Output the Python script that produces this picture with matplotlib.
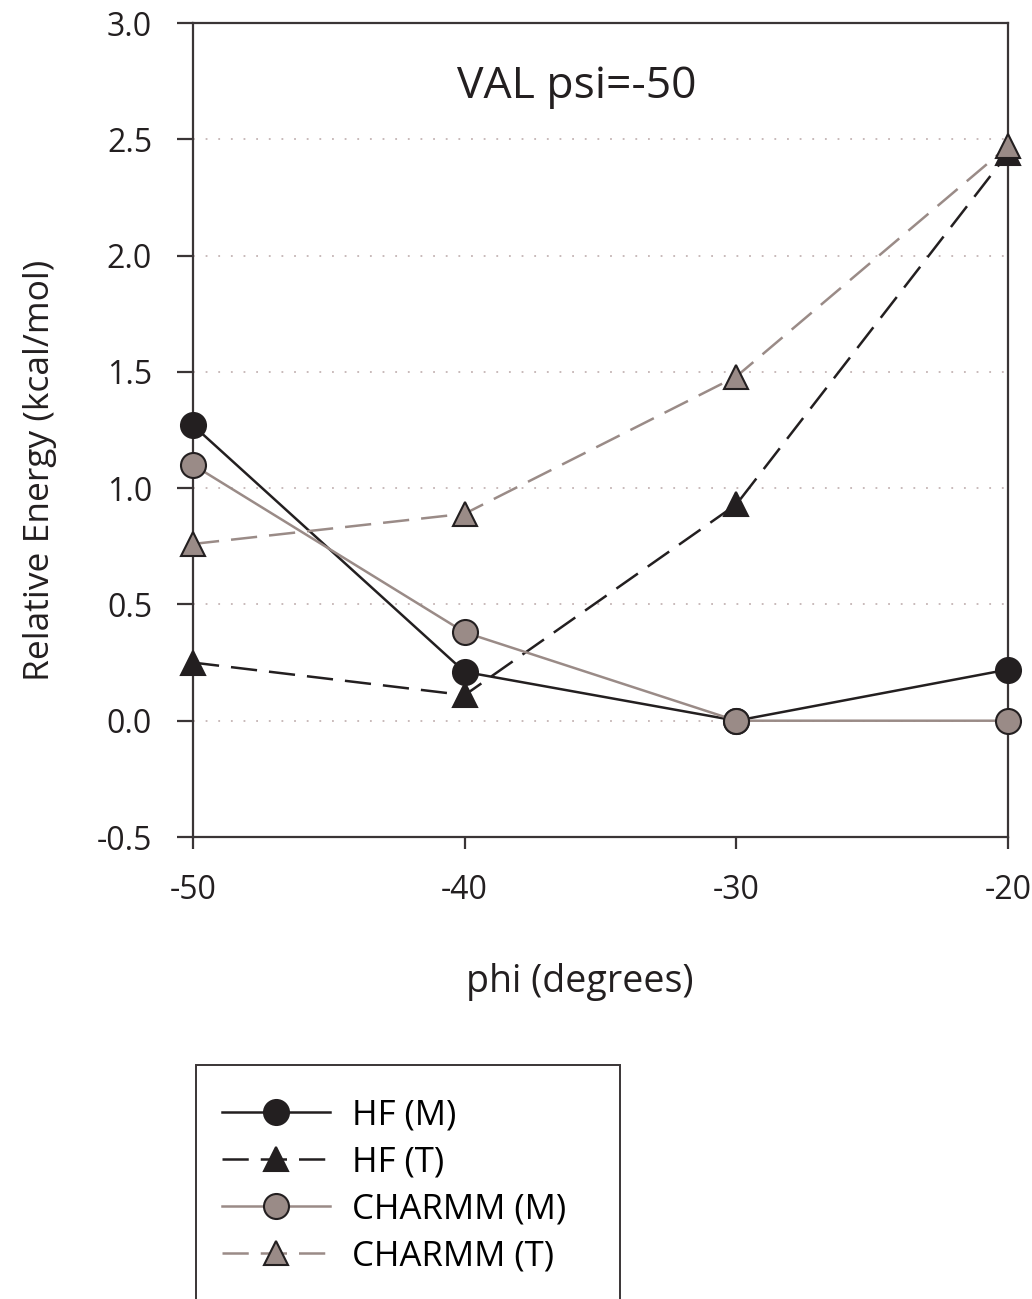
import matplotlib
matplotlib.use("Agg")
import matplotlib.pyplot as plt
from matplotlib.patches import Rectangle

plt.rcParams['font.family'] = ['Open Sans', 'DejaVu Sans']

# data
phi = [-50, -40, -30, -20]
hf_m = [1.27, 0.21, 0.00, 0.22]
hf_t = [0.25, 0.11, 0.93, 2.44]
charmm_m = [1.10, 0.38, 0.00, 0.00]
charmm_t = [0.76, 0.89, 1.48, 2.47]
series_names = ["HF (M)", "HF (T)", "CHARMM (M)", "CHARMM (T)"]
y_ticks = [-0.5, 0.0, 0.5, 1.0, 1.5, 2.0, 2.5, 3.0]
grid_levels = [0.0, 0.5, 1.0, 1.5, 2.0, 2.5]

black = "#231f20"
grey = "#9a8b87"
dash = (10.5, 4.8)

fig = plt.figure(figsize=(10.32, 12.99), dpi=100)
ax = fig.add_axes([193 / 1032, 1 - 837 / 1299, 815 / 1032, 814 / 1299])

for g in grid_levels:
    ax.axhline(g, color="#c4b4b4", lw=1.3, ls=(0, (1, 6)), zorder=0)

ms = 18
ax.plot(phi, hf_m, color=black, lw=1.8, marker='o', ms=ms, mfc=black,
        mec=black, mew=1.5, label=series_names[0], clip_on=False, zorder=3)
ax.plot(phi, hf_t, color=black, lw=1.8, dashes=dash, marker='^', ms=ms - 1,
        mfc=black, mec=black, mew=1.5, label=series_names[1], clip_on=False, zorder=3)
ax.plot(phi, charmm_m, color=grey, lw=1.8, marker='o', ms=ms, mfc=grey,
        mec=black, mew=1.5, label=series_names[2], clip_on=False, zorder=4)
ax.plot(phi, charmm_t, color=grey, lw=1.8, dashes=dash, marker='^', ms=ms - 1,
        mfc=grey, mec=black, mew=1.5, label=series_names[3], clip_on=False, zorder=4)

ax.set_xlim(-50, -20)
ax.set_ylim(-0.5, 3.0)
ax.set_xticks(phi)
ax.set_xticklabels([str(p) for p in phi])
ax.set_yticks(y_ticks)
ax.set_yticklabels([f"{v:.1f}" for v in y_ticks])

for s in ax.spines.values():
    s.set_color("#3a3536")
    s.set_linewidth(1.6)
ax.tick_params(axis='y', direction='out', length=11.5, width=1.6, pad=18,
               labelsize=23, colors="#3a3536", labelcolor=black)
ax.tick_params(axis='x', direction='out', length=8.6, width=1.6, pad=18,
               labelsize=23, colors="#3a3536", labelcolor=black)

ax.set_xlabel("phi (degrees)", fontsize=27, color=black)
ax.xaxis.label.set_va('center')
ax.xaxis.set_label_coords((580 - 193) / 815, (837 - 982) / 814)
ax.set_ylabel("Relative Energy (kcal/mol)", fontsize=25.5, color=black)
ax.yaxis.label.set_va('center')
ax.yaxis.set_label_coords((40 - 193) / 815, (837 - 470) / 814)

ax.text((577 - 193) / 815, (837 - 87) / 814, "VAL psi=-50", transform=ax.transAxes,
        ha='center', va='center', fontsize=32, color=black)

# legend box, cut off by the bottom edge
fig.patches.append(Rectangle((196 / 1032, -0.05), (620 - 196) / 1032,
                             (1299 - 1065) / 1299 + 0.05, transform=fig.transFigure,
                             fill=False, ec="#3a3536", lw=1.4))
handles, labels = ax.get_legend_handles_labels()
fig.legend(handles, labels, loc='upper left',
           bbox_to_anchor=(222 / 1032, 1 - 1098 / 1299),
           frameon=False, fontsize=25, handlelength=3.1, handletextpad=0.63,
           labelspacing=0.38, borderpad=0, borderaxespad=0)

fig.savefig("out.png", dpi=100)
